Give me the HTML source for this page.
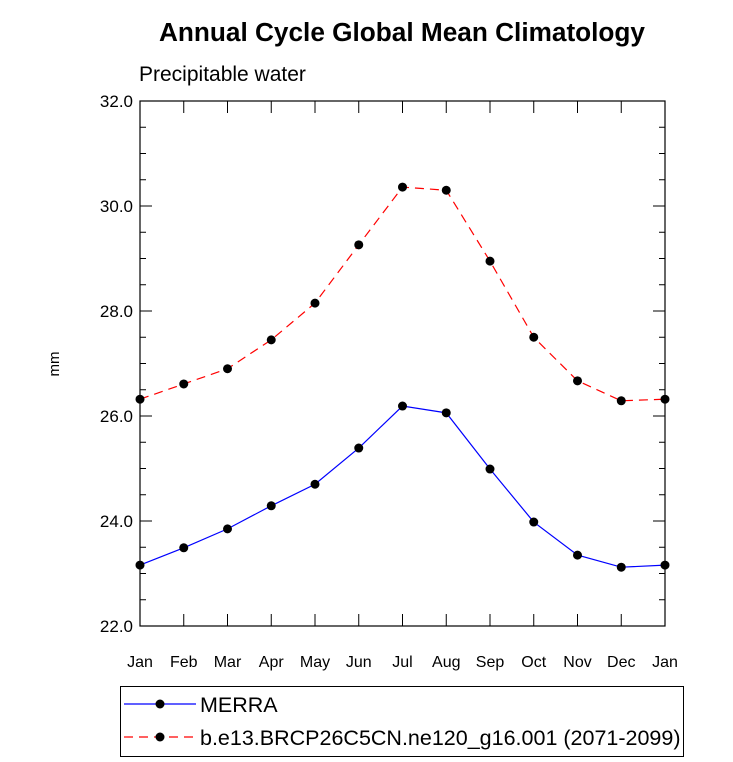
<!DOCTYPE html>
<html><head><meta charset="utf-8"><style>
body{margin:0;background:#fff;}
svg{display:block;font-family:"Liberation Sans",Arial,sans-serif;}
</style></head><body>
<svg id="chart" width="733" height="762">
<text x="402" y="41" text-anchor="middle" font-size="26.2" font-weight="bold">Annual Cycle Global Mean Climatology</text>
<text x="139" y="81" font-size="21">Precipitable water</text>
<text transform="translate(59,364) rotate(-90)" text-anchor="middle" font-size="15">mm</text>
<g id="axes"></g>
<g id="series"></g>
<g>
<rect x="120.5" y="686.5" width="563" height="70" fill="none" stroke="#000" stroke-width="1"/>
<line x1="124" y1="704" x2="196" y2="704" stroke="#0000ff" stroke-width="1.2"/>
<circle cx="160" cy="704" r="4.5" fill="#000"/>
<text x="200" y="712" font-size="21.5">MERRA</text>
<line x1="124" y1="737" x2="196" y2="737" stroke="#ff0000" stroke-width="1.2" stroke-dasharray="9,6"/>
<circle cx="160" cy="737" r="4.5" fill="#000"/>
<text x="200" y="745" font-size="21.5">b.e13.BRCP26C5CN.ne120_g16.001 (2071-2099)</text>
</g>
</svg>
<script>
const months=["Jan","Feb","Mar","Apr","May","Jun","Jul","Aug","Sep","Oct","Nov","Dec","Jan"];
const merra=[23.16,23.49,23.85,24.29,24.70,25.39,26.19,26.06,24.99,23.98,23.35,23.12,23.16];
const model=[26.32,26.61,26.90,27.45,28.15,29.26,30.36,30.30,28.95,27.50,26.67,26.29,26.32];
const yTicks=[22,24,26,28,30,32];
const NS="http://www.w3.org/2000/svg";
const L=140,R=665,T=101,B=626,ymin=22,ymax=32;
const xs=i=>L+(R-L)*i/(months.length-1);
const ys=v=>B-(B-T)*(v-ymin)/(ymax-ymin);
function mk(tag,attrs,parent){const e=document.createElementNS(NS,tag);for(const k in attrs)e.setAttribute(k,attrs[k]);parent.appendChild(e);return e;}
const ax=document.getElementById('axes');
const frame=mk('rect',{x:L,y:T,width:R-L,height:B-T,fill:'none',stroke:'#000','stroke-width':1.2},ax);


for(let v=ymin;v<=ymax+1e-9;v+=0.5){
  const maj=Math.abs(v/2-Math.round(v/2))<1e-9;const len=maj?12:6;const y=ys(v);
  mk('line',{x1:L,y1:y,x2:L+len,y2:y,stroke:'#000','stroke-width':1},ax);
  mk('line',{x1:R,y1:y,x2:R-len,y2:y,stroke:'#000','stroke-width':1},ax);
}
yTicks.forEach(v=>{const t=mk('text',{x:L-7,y:ys(v)+6,'text-anchor':'end','font-size':17},ax);t.textContent=v.toFixed(1);

});
months.forEach((m,i)=>{const x=xs(i);
  mk('line',{x1:x,y1:B,x2:x,y2:B-12,stroke:'#000','stroke-width':1},ax);
  mk('line',{x1:x,y1:T,x2:x,y2:T+12,stroke:'#000','stroke-width':1},ax);
  const t=mk('text',{x:x,y:B+41,'text-anchor':'middle','font-size':16},ax);t.textContent=m;
  
  });
const sg=document.getElementById('series');
function draw(vals,color,dash,name){
  const p=mk('polyline',{points:vals.map((v,i)=>xs(i)+','+ys(v)).join(' '),fill:'none',stroke:color,'stroke-width':1.2},sg);
  if(dash)p.setAttribute('stroke-dasharray',dash);
  
  
  vals.forEach((v,i)=>{const c=mk('circle',{cx:xs(i),cy:ys(v),r:4.5,fill:'#000'},sg);
    
    });
}
draw(model,'#ff0000','9,6','model');
draw(merra,'#0000ff',null,'merra');
</script>
</body></html>
